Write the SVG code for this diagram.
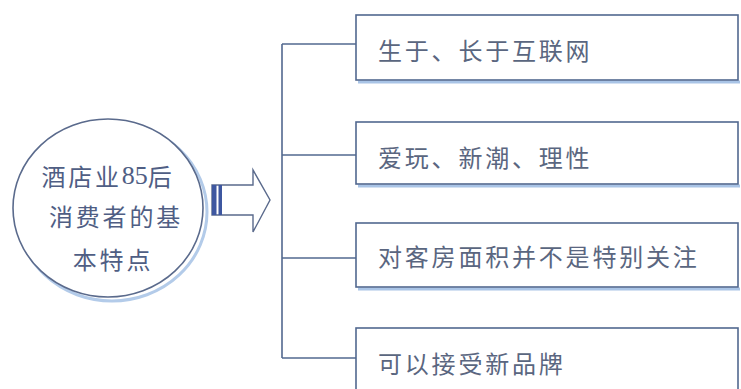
<svg xmlns="http://www.w3.org/2000/svg" width="741" height="389" viewBox="0 0 741 389">
<style>
.box{fill:#fff;stroke:#52688f;stroke-width:1.6}
.shadow{fill:none;stroke:#a9c4e6;stroke-width:3}
.lbl{font-family:"Noto Sans CJK SC","Noto Sans",sans-serif;font-size:24px;fill:#5a6680;letter-spacing:2.8px;dominant-baseline:central}
.ctr{font-family:"Noto Sans CJK SC","Noto Sans",sans-serif;font-size:24px;fill:#4f5e84;letter-spacing:2.8px;text-anchor:middle;dominant-baseline:central}
.num{font-family:"Liberation Serif",serif;font-size:26px;letter-spacing:0}
.con{fill:none;stroke:#52688f;stroke-width:1.6}
</style>
<rect width="741" height="389" fill="#fff"/>
<g id="center">
<ellipse cx="110" cy="210" rx="95" ry="89" fill="none" stroke="#b3cbe9" stroke-width="3" transform="translate(2,2)"/>
<ellipse cx="108" cy="208" rx="95" ry="89" fill="#fff" stroke="#5a6a8c" stroke-width="1.6"/>
<text class="ctr" x="108" y="175">酒店业<tspan class="num">85</tspan>后</text>
<text class="ctr" x="116" y="215">消费者的基</text>
<text class="ctr" x="113" y="258">本特点</text>
</g>
<g id="arrow">
<path d="M212,185 H253 V170 L270,200 L253,232 V215 H212 Z" fill="#fff" stroke="#5a6a8c" stroke-width="1.4"/>
<rect x="212" y="185" width="4.5" height="30" fill="#3e57a0"/>
<rect x="218.5" y="185" width="3.5" height="30" fill="#3e57a0"/>
</g>
<g id="connectors">
<path class="con" d="M282,44 V358"/>
<path class="con" d="M282,44 H356"/>
<path class="con" d="M282,155 H356"/>
<path class="con" d="M282,258 H356"/>
<path class="con" d="M282,358 H356"/>
</g>
<g id="n1">
<path class="shadow" d="M358,82 H740"/>
<rect class="box" x="356" y="15" width="382" height="65"/>
<text class="lbl" x="378" y="49">生于、长于互联网</text>
</g>
<g id="n2">
<path class="shadow" d="M358,186 H740"/>
<rect class="box" x="356" y="122" width="382" height="62"/>
<text class="lbl" x="378" y="156">爱玩、新潮、理性</text>
</g>
<g id="n3">
<path class="shadow" d="M358,289 H740"/>
<rect class="box" x="356" y="223" width="382" height="64"/>
<text class="lbl" x="378" y="255">对客房面积并不是特别关注</text>
</g>
<g id="n4">
<rect class="box" x="356" y="328" width="382" height="70"/>
<text class="lbl" x="378" y="362">可以接受新品牌</text>
</g>
</svg>
